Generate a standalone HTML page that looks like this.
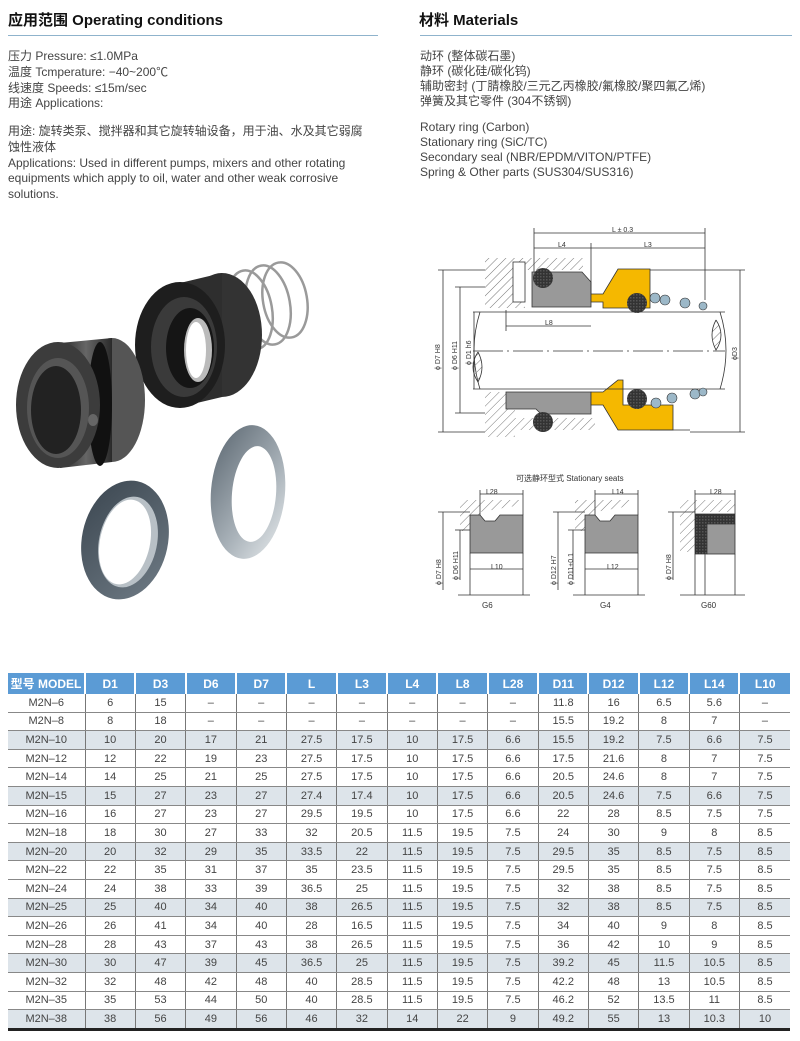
<!DOCTYPE html>
<html><head><meta charset="utf-8"><style>
body{margin:0;width:800px;height:1041px;background:#fff;position:relative;overflow:hidden;font-family:"Liberation Sans","Noto Sans CJK SC",sans-serif;color:#333}
.h{position:absolute;font-weight:bold;font-size:15px;color:#111;top:9px}
.ln{position:absolute;top:35px;height:1px;background:#8fb3cc}
.t{position:absolute;font-size:12px;line-height:15.8px;color:#444;white-space:nowrap}
table{position:absolute;left:8px;top:673px;width:782px;border-collapse:collapse;font-size:11px;color:#444;table-layout:fixed}
th{background:#5b9bd5;color:#fff;height:21px;font-size:12px;border-left:2px solid #fff;padding:0}
td{height:17.6px;text-align:center;padding:0;border-left:1px solid #777;border-bottom:1px solid #888}
tr.s td{background:#dde4ea}
td:first-child,th:first-child{border-left:none}
tr:last-child td{border-bottom:3px solid #222}
</style></head><body>
<div class="h" style="left:8px">应用范围 Operating conditions</div>
<div class="ln" style="left:8px;width:370px"></div>
<div class="h" style="left:419px">材料 Materials</div>
<div class="ln" style="left:420px;width:372px"></div>
<div class="t" style="left:8px;top:49px">压力 Pressure: ≤1.0MPa<br>温度 Tcmperature: −40~200℃<br>线速度 Speeds: ≤15m/sec<br>用途 Applications:</div>
<div class="t" style="left:8px;top:124px">用途: 旋转类泵、搅拌器和其它旋转轴设备，用于油、水及其它弱腐<br>蚀性液体<br>Applications: Used in different pumps, mixers and other rotating<br>equipments which apply to oil, water and other weak corrosive<br>solutions.</div>
<div class="t" style="left:420px;top:49px;line-height:15px">动环 (整体碳石墨)<br>静环 (碳化硅/碳化钨)<br>辅助密封 (丁腈橡胶/三元乙丙橡胶/氟橡胶/聚四氟乙烯)<br>弹簧及其它零件 (304不锈钢)</div>
<div class="t" style="left:420px;top:120px;line-height:15px">Rotary ring (Carbon)<br>Stationary ring (SiC/TC)<br>Secondary seal (NBR/EPDM/VITON/PTFE)<br>Spring &amp; Other parts (SUS304/SUS316)</div>

<svg style="position:absolute;left:0;top:0" width="800" height="660">
<defs>
<linearGradient id="g2" x1="0" x2="1"><stop offset="0" stop-color="#2a2a2a"/><stop offset=".5" stop-color="#666"/><stop offset="1" stop-color="#2a2a2a"/></linearGradient>
<linearGradient id="g3" x1="0" x2="1" y1="0" y2="1"><stop offset="0" stop-color="#5a6670"/><stop offset=".6" stop-color="#a9b2b9"/><stop offset="1" stop-color="#e8ecee"/></linearGradient>
<linearGradient id="g4" x1="0" x2="1" y1="0" y2="1"><stop offset="0" stop-color="#3b4650"/><stop offset="1" stop-color="#6f7b85"/></linearGradient>
<pattern id="hat" width="6" height="6" patternUnits="userSpaceOnUse" patternTransform="rotate(45)"><line x1="0" y1="0" x2="0" y2="6" stroke="#777" stroke-width="1"/></pattern>
<pattern id="xx" width="3" height="3" patternUnits="userSpaceOnUse"><rect width="3" height="3" fill="#333"/><rect width="1.5" height="1.5" fill="#555"/></pattern>
</defs>
<!-- photo: spring -->
<g fill="none" stroke="#9a9a9a" stroke-width="2.5">
<ellipse cx="285" cy="300" rx="22" ry="38" transform="rotate(-10 285 300)"/>
<ellipse cx="268" cy="305" rx="22" ry="40" transform="rotate(-10 268 305)"/>
<ellipse cx="250" cy="310" rx="22" ry="40" transform="rotate(-10 250 310)"/>
</g>
<!-- big ring -->
<ellipse cx="222" cy="335" rx="40" ry="62" fill="#333"/>
<path d="M180 283 L222 273 L222 397 L180 407z" fill="#2e2e2e"/>
<ellipse cx="180" cy="345" rx="45" ry="63" fill="#1e1e1e"/>
<ellipse cx="184" cy="347" rx="33" ry="50" fill="#3a3a3a"/>
<ellipse cx="190" cy="348" rx="24" ry="40" fill="#151515"/>
<ellipse cx="198" cy="350" rx="14" ry="32" fill="#bbb"/>
<ellipse cx="196" cy="350" rx="10" ry="28" fill="#fff"/>
<!-- left ring -->
<ellipse cx="112" cy="400" rx="33" ry="62" fill="#555"/>
<path d="M60 343 L112 338 L112 462 L60 468z" fill="url(#g2)"/>
<ellipse cx="100" cy="404" rx="12" ry="62" fill="#111"/>
<ellipse cx="58" cy="405" rx="42" ry="63" fill="#3c3c3c"/>
<ellipse cx="58" cy="408" rx="31" ry="50" fill="#555"/>
<ellipse cx="56" cy="410" rx="25" ry="44" fill="#222"/>
<ellipse cx="93" cy="420" rx="5" ry="6" fill="#666"/>
<!-- light ring -->
<ellipse cx="248" cy="492" rx="37" ry="67" fill="url(#g3)" transform="rotate(5 248 492)"/>
<ellipse cx="254" cy="494" rx="22" ry="48" fill="#fff" transform="rotate(5 254 494)"/>
<!-- dark small ring -->
<ellipse cx="125" cy="540" rx="43" ry="60" fill="url(#g4)" transform="rotate(12 125 540)"/>
<ellipse cx="128" cy="542" rx="29" ry="46" fill="#b8c0c6" transform="rotate(12 128 542)"/>
<ellipse cx="125" cy="542" rx="25" ry="43" fill="#fff" transform="rotate(12 125 542)"/>
<!-- main drawing -->
<g stroke="#333" stroke-width="0.8" fill="none">
<rect x="485" y="258" width="40" height="50" fill="url(#hat)" stroke="none"/>
<rect x="525" y="258" width="58" height="12" fill="url(#hat)" stroke="none"/>
<rect x="485" y="392" width="30" height="45" fill="url(#hat)" stroke="none"/>
<rect x="515" y="418" width="80" height="12" fill="url(#hat)" stroke="none"/>
<rect x="513" y="262" width="12" height="40" fill="#fff"/>
<path d="M532 272 h50 l9 10 v25 h-59z" fill="#999"/>
<path d="M506 392 h85 v22 h-50 l-5 -5 h-30z" fill="#999"/>
<path d="M591 294 h12 l15 -25 h32 v39 h-47 v-6 h-12z" fill="#f5b800"/>
<path d="M591 392 h12 l15 -12 h5 v25 h50 v25 h-55 l-15 -25 h-12z" fill="#f5b800"/>
<line x1="473" y1="312" x2="725" y2="312"/><line x1="473" y1="389" x2="725" y2="389"/>
<path d="M480 312 q-12 38 0 77" />
<path d="M720 312 q12 38 0 77" />
<path d="M478 352 q-10 15 0 30 q8 -15 0 -30" fill="url(#hat)"/>
<path d="M716 320 q-8 15 0 30 q10 -15 0 -30" fill="url(#hat)"/>
<line x1="473" y1="351" x2="725" y2="351" stroke-dasharray="30 4 2 4"/>
<path d="M650 270 h40 M650 430 h40" />
<line x1="534" y1="233" x2="705" y2="233"/><line x1="534" y1="248" x2="705" y2="248"/>
<line x1="534" y1="228" x2="534" y2="272"/><line x1="705" y1="228" x2="705" y2="300"/>
<line x1="591" y1="243" x2="591" y2="294"/>
<line x1="506" y1="326" x2="591" y2="326"/><line x1="506" y1="310" x2="506" y2="331"/>
<line x1="443" y1="270" x2="443" y2="432"/><line x1="460" y1="287" x2="460" y2="413"/><line x1="474" y1="312" x2="474" y2="389"/>
<line x1="438" y1="270" x2="485" y2="270"/><line x1="438" y1="432" x2="485" y2="432"/>
<line x1="455" y1="287" x2="485" y2="287"/><line x1="455" y1="413" x2="485" y2="413"/>
<line x1="740" y1="270" x2="740" y2="432"/><line x1="690" y1="270" x2="745" y2="270"/><line x1="690" y1="432" x2="745" y2="432"/>
</g>
<g fill="url(#xx)"><circle cx="543" cy="278" r="10"/><circle cx="637" cy="303" r="10"/><circle cx="543" cy="422" r="10"/><circle cx="637" cy="399" r="10"/></g>
<g fill="#9cb8c8" stroke="#333" stroke-width=".6"><circle cx="655" cy="298" r="5"/><circle cx="665" cy="300" r="5"/><circle cx="685" cy="303" r="5"/><circle cx="703" cy="306" r="4"/><circle cx="656" cy="403" r="5"/><circle cx="672" cy="398" r="5"/><circle cx="695" cy="394" r="5"/><circle cx="703" cy="392" r="4"/></g>
<g font-size="7" fill="#333">
<text x="612" y="232">L ± 0.3</text><text x="558" y="247">L4</text><text x="644" y="247">L3</text><text x="545" y="325">L8</text>
<text transform="translate(440 370) rotate(-90)">ϕ D7  H8</text><text transform="translate(457 370) rotate(-90)">ϕ D6  H11</text><text transform="translate(471 365) rotate(-90)">ϕ D1  h6</text><text transform="translate(737 360) rotate(-90)">ϕD3</text>
<text x="516" y="481" font-size="8">可选静环型式   Stationary seats</text>
<text x="486" y="494">L28</text><text x="612" y="494">L14</text><text x="710" y="494">L28</text>
<text x="491" y="569">L10</text><text x="607" y="569">L12</text>
<text x="482" y="608" font-size="8">G6</text><text x="600" y="608" font-size="8">G4</text><text x="701" y="608" font-size="8">G60</text>
<text transform="translate(441 585) rotate(-90)">ϕ D7  H8</text><text transform="translate(458 580) rotate(-90)">ϕ D6  H11</text>
<text transform="translate(556 585) rotate(-90)">ϕ D12  H7</text><text transform="translate(573 585) rotate(-90)">ϕ D11+0.1</text>
<text transform="translate(671 580) rotate(-90)">ϕ D7  H8</text>
</g>
<g stroke="#333" stroke-width=".8" fill="none">
<path d="M460 500 h60 l-5 6 l-35 6 v19 h-20z" fill="url(#hat)" stroke="none"/>
<path d="M470 515 h10 l5 6 h10 l5 -6 h23 v38 h-53z" fill="#999"/>
<line x1="470" y1="553" x2="470" y2="595"/><line x1="523" y1="553" x2="523" y2="595"/><line x1="458" y1="595" x2="530" y2="595"/>
<line x1="480" y1="494" x2="523" y2="494"/><line x1="480" y1="490" x2="480" y2="515"/><line x1="523" y1="490" x2="523" y2="515"/>
<line x1="470" y1="569" x2="523" y2="569"/>
<line x1="443" y1="512" x2="443" y2="590"/><line x1="460" y1="530" x2="460" y2="580"/><line x1="438" y1="512" x2="470" y2="512"/><line x1="455" y1="530" x2="470" y2="530"/>
<path d="M575 500 h60 l-5 6 l-35 6 v19 h-20z" fill="url(#hat)" stroke="none"/>
<path d="M585 515 h10 l5 6 h10 l5 -6 h23 v38 h-53z" fill="#999"/>
<line x1="585" y1="553" x2="585" y2="595"/><line x1="638" y1="553" x2="638" y2="595"/><line x1="573" y1="595" x2="645" y2="595"/>
<line x1="595" y1="494" x2="638" y2="494"/><line x1="595" y1="490" x2="595" y2="515"/><line x1="638" y1="490" x2="638" y2="515"/>
<line x1="585" y1="569" x2="638" y2="569"/>
<line x1="558" y1="512" x2="558" y2="590"/><line x1="573" y1="530" x2="573" y2="580"/><line x1="553" y1="512" x2="585" y2="512"/><line x1="568" y1="530" x2="585" y2="530"/>
<path d="M680 500 h55 v12 h-40 v40 h-15z" fill="url(#hat)" stroke="none"/>
<path d="M695 514 h40 v10 h-28 v30 h-12z" fill="url(#xx)"/>
<rect x="707" y="524" width="28" height="30" fill="#999"/>
<line x1="695" y1="554" x2="695" y2="595"/><line x1="705" y1="554" x2="705" y2="595"/><line x1="735" y1="554" x2="735" y2="595"/><line x1="680" y1="595" x2="745" y2="595"/>
<line x1="695" y1="494" x2="735" y2="494"/><line x1="695" y1="490" x2="695" y2="514"/><line x1="735" y1="490" x2="735" y2="514"/>
<line x1="673" y1="512" x2="673" y2="580"/><line x1="668" y1="512" x2="695" y2="512"/>
</g>
</svg>

<table>
<colgroup><col style="width:77px"><col span="14"></colgroup>
<tr><th>型号 MODEL</th><th>D1</th><th>D3</th><th>D6</th><th>D7</th><th>L</th><th>L3</th><th>L4</th><th>L8</th><th>L28</th><th>D11</th><th>D12</th><th>L12</th><th>L14</th><th>L10</th></tr>
<tr><td>M2N–6</td><td>6</td><td>15</td><td>–</td><td>–</td><td>–</td><td>–</td><td>–</td><td>–</td><td>–</td><td>11.8</td><td>16</td><td>6.5</td><td>5.6</td><td>–</td></tr>
<tr><td>M2N–8</td><td>8</td><td>18</td><td>–</td><td>–</td><td>–</td><td>–</td><td>–</td><td>–</td><td>–</td><td>15.5</td><td>19.2</td><td>8</td><td>7</td><td>–</td></tr>
<tr class="s"><td>M2N–10</td><td>10</td><td>20</td><td>17</td><td>21</td><td>27.5</td><td>17.5</td><td>10</td><td>17.5</td><td>6.6</td><td>15.5</td><td>19.2</td><td>7.5</td><td>6.6</td><td>7.5</td></tr>
<tr><td>M2N–12</td><td>12</td><td>22</td><td>19</td><td>23</td><td>27.5</td><td>17.5</td><td>10</td><td>17.5</td><td>6.6</td><td>17.5</td><td>21.6</td><td>8</td><td>7</td><td>7.5</td></tr>
<tr><td>M2N–14</td><td>14</td><td>25</td><td>21</td><td>25</td><td>27.5</td><td>17.5</td><td>10</td><td>17.5</td><td>6.6</td><td>20.5</td><td>24.6</td><td>8</td><td>7</td><td>7.5</td></tr>
<tr class="s"><td>M2N–15</td><td>15</td><td>27</td><td>23</td><td>27</td><td>27.4</td><td>17.4</td><td>10</td><td>17.5</td><td>6.6</td><td>20.5</td><td>24.6</td><td>7.5</td><td>6.6</td><td>7.5</td></tr>
<tr><td>M2N–16</td><td>16</td><td>27</td><td>23</td><td>27</td><td>29.5</td><td>19.5</td><td>10</td><td>17.5</td><td>6.6</td><td>22</td><td>28</td><td>8.5</td><td>7.5</td><td>7.5</td></tr>
<tr><td>M2N–18</td><td>18</td><td>30</td><td>27</td><td>33</td><td>32</td><td>20.5</td><td>11.5</td><td>19.5</td><td>7.5</td><td>24</td><td>30</td><td>9</td><td>8</td><td>8.5</td></tr>
<tr class="s"><td>M2N–20</td><td>20</td><td>32</td><td>29</td><td>35</td><td>33.5</td><td>22</td><td>11.5</td><td>19.5</td><td>7.5</td><td>29.5</td><td>35</td><td>8.5</td><td>7.5</td><td>8.5</td></tr>
<tr><td>M2N–22</td><td>22</td><td>35</td><td>31</td><td>37</td><td>35</td><td>23.5</td><td>11.5</td><td>19.5</td><td>7.5</td><td>29.5</td><td>35</td><td>8.5</td><td>7.5</td><td>8.5</td></tr>
<tr><td>M2N–24</td><td>24</td><td>38</td><td>33</td><td>39</td><td>36.5</td><td>25</td><td>11.5</td><td>19.5</td><td>7.5</td><td>32</td><td>38</td><td>8.5</td><td>7.5</td><td>8.5</td></tr>
<tr class="s"><td>M2N–25</td><td>25</td><td>40</td><td>34</td><td>40</td><td>38</td><td>26.5</td><td>11.5</td><td>19.5</td><td>7.5</td><td>32</td><td>38</td><td>8.5</td><td>7.5</td><td>8.5</td></tr>
<tr><td>M2N–26</td><td>26</td><td>41</td><td>34</td><td>40</td><td>28</td><td>16.5</td><td>11.5</td><td>19.5</td><td>7.5</td><td>34</td><td>40</td><td>9</td><td>8</td><td>8.5</td></tr>
<tr><td>M2N–28</td><td>28</td><td>43</td><td>37</td><td>43</td><td>38</td><td>26.5</td><td>11.5</td><td>19.5</td><td>7.5</td><td>36</td><td>42</td><td>10</td><td>9</td><td>8.5</td></tr>
<tr class="s"><td>M2N–30</td><td>30</td><td>47</td><td>39</td><td>45</td><td>36.5</td><td>25</td><td>11.5</td><td>19.5</td><td>7.5</td><td>39.2</td><td>45</td><td>11.5</td><td>10.5</td><td>8.5</td></tr>
<tr><td>M2N–32</td><td>32</td><td>48</td><td>42</td><td>48</td><td>40</td><td>28.5</td><td>11.5</td><td>19.5</td><td>7.5</td><td>42.2</td><td>48</td><td>13</td><td>10.5</td><td>8.5</td></tr>
<tr><td>M2N–35</td><td>35</td><td>53</td><td>44</td><td>50</td><td>40</td><td>28.5</td><td>11.5</td><td>19.5</td><td>7.5</td><td>46.2</td><td>52</td><td>13.5</td><td>11</td><td>8.5</td></tr>
<tr class="s"><td>M2N–38</td><td>38</td><td>56</td><td>49</td><td>56</td><td>46</td><td>32</td><td>14</td><td>22</td><td>9</td><td>49.2</td><td>55</td><td>13</td><td>10.3</td><td>10</td></tr>
</table>
</body></html>
